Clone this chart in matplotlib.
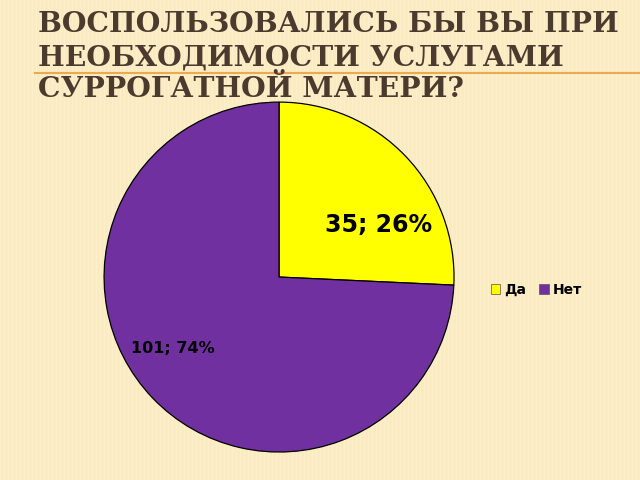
import matplotlib.pyplot as plt
from matplotlib.lines import Line2D
from matplotlib.patches import Patch

labels = ["Да", "Нет"]
counts = [35, 101]
percents = [26, 74]
colors = ["#FFFF00", "#7030A0"]
title_lines = ["ВОСПОЛЬЗОВАЛИСЬ БЫ ВЫ ПРИ", "НЕОБХОДИМОСТИ УСЛУГАМИ", "СУРРОГАТНОЙ МАТЕРИ?"]

bg = "#FBEBC0"
fig = plt.figure(figsize=(6.4, 4.8), dpi=100, facecolor=bg)

# faint vertical stripes of the slide background, kept behind everything
bg_ax = fig.add_axes([0, 0, 1, 1], zorder=-10)
bg_ax.set_xlim(0, 640)
bg_ax.set_ylim(0, 480)
bg_ax.axis("off")
for x in range(0, 640, 4):
    bg_ax.axvline(x, color="#FFF3D4", lw=0.8, alpha=0.5)

# title
title_color = "#4B3A2E"
baselines = [32, 65, 97]
for line, yb in zip(title_lines, baselines):
    fig.text(38 / 640, 1 - yb / 480, line, fontsize=20.3, fontweight="bold",
             family="DejaVu Serif", color=title_color, va="baseline", ha="left")

fig.add_artist(Line2D([35 / 640, 1], [1 - 73 / 480, 1 - 73 / 480], color="#F0A850", lw=1.5))

# pie
ax = fig.add_axes([0.1625, 0.0583, 0.547, 0.729])
ax.set_facecolor("none")
wedges, _ = ax.pie(counts, colors=colors, startangle=90, counterclock=False,
                   wedgeprops=dict(edgecolor="black", linewidth=0.9))
ax.set_xlim(-1, 1)
ax.set_ylim(-1, 1)
ax.set_aspect("equal")

ax.text(0.57, 0.30, f"{counts[0]}; {percents[0]}%", fontsize=17, fontweight="bold",
        ha="center", va="center", color="black")
ax.text(-0.61, -0.41, f"{counts[1]}; {percents[1]}%", fontsize=11.5, fontweight="bold",
        ha="center", va="center", color="black")

handles = [Patch(facecolor=c, edgecolor="#555555", linewidth=0.5) for c in colors]
fig.legend(handles, labels, loc="center left", bbox_to_anchor=(478 / 640, 1 - 290 / 480),
           ncol=2, frameon=False, prop={"weight": "bold", "size": 10},
           handlelength=0.7, handleheight=0.7, handletextpad=0.3, columnspacing=0.9)

fig.savefig("out.png", dpi=100, facecolor=bg)
